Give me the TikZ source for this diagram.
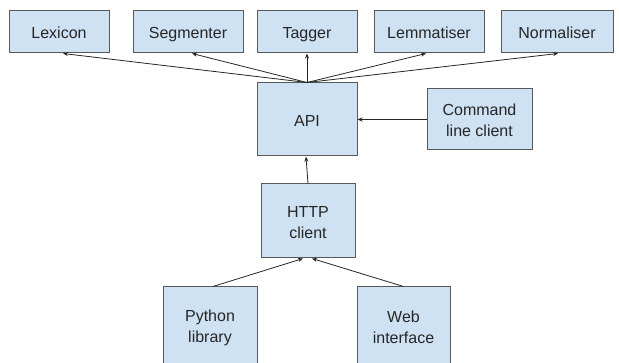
\documentclass[tikz,border=0pt]{standalone}
\usepackage{fontspec}
\setmainfont{Liberation Sans}
\usetikzlibrary{arrows.meta}
\definecolor{boxfill}{HTML}{CFE2F3}
\definecolor{boxline}{HTML}{595959}
\definecolor{ink}{HTML}{262626}
% fixed line height so every label sits at the same level
\newcommand\boxstrut{\rule[-2pt]{0pt}{18pt}}
\tikzset{
  label text/.style={text=ink, align=center, font=\fontsize{16}{21}\selectfont},
  box/.style={draw=boxline, fill=boxfill, line width=1pt, inner sep=0pt, label text},
  link/.style={draw=ink, line width=0.8pt, -{Stealth[length=5pt,width=4pt]}}
}
\begin{document}
\begin{tikzpicture}[x=1pt,y=-1pt]
\useasboundingbox (0,0) rectangle (619,363);
\clip (0,0) rectangle (619,363);
% service modules
\node[box, minimum width=100pt, minimum height=42pt] (lex) at (59,32) {Lexicon\boxstrut};
\node[box, minimum width=110pt, minimum height=42pt] (seg) at (188,32) {Segmenter\boxstrut};
\node[box, minimum width=100pt, minimum height=42pt] (tag) at (307,32) {Tagger\boxstrut};
\node[box, minimum width=110pt, minimum height=42pt] (lem) at (429,32) {Lemmatiser\boxstrut};
\node[box, minimum width=112pt, minimum height=42pt] (nor) at (557,32) {Normaliser\boxstrut};
% core
\node[box, minimum width=100pt, minimum height=73pt] (api) at (307,119.5) {API\boxstrut};
\node[box, minimum width=105pt, minimum height=61pt] (cmd) at (479.5,119.5) {Command\boxstrut\\line client\boxstrut};
\node[box, minimum width=94pt, minimum height=74pt] (http) at (308,221) {HTTP\boxstrut\\client\boxstrut};
% front ends (run past the lower edge)
\node[box, minimum width=94pt, minimum height=90pt] (py) at (210,332) {};
\node[box, minimum width=93pt, minimum height=90pt] (web) at (403.5,332) {};
\node[label text, inner sep=0pt] (pylab) at (210,326) {Python\boxstrut\\library\boxstrut};
\node[label text, inner sep=0pt] (weblab) at (403.5,326) {Web\boxstrut\\interface\boxstrut};
% connectors
\draw[link] (api.north) -- ([xshift=4pt]lex.south);
\draw[link] (api.north) -- ([xshift=4pt]seg.south);
\draw[link] (api.north) -- (tag.south);
\draw[link] (api.north) -- ([xshift=-3pt]lem.south);
\draw[link] (api.north) -- ([xshift=1pt]nor.south);
\draw[link] (cmd.west) -- (api.east);
\draw[link] (http.north) -- ([xshift=-1pt]api.south);
\draw[link] ([xshift=3pt]py.north) -- ([xshift=-5pt]http.south);
\draw[link] (web.north) -- ([xshift=4pt]http.south);
\end{tikzpicture}
\end{document}
